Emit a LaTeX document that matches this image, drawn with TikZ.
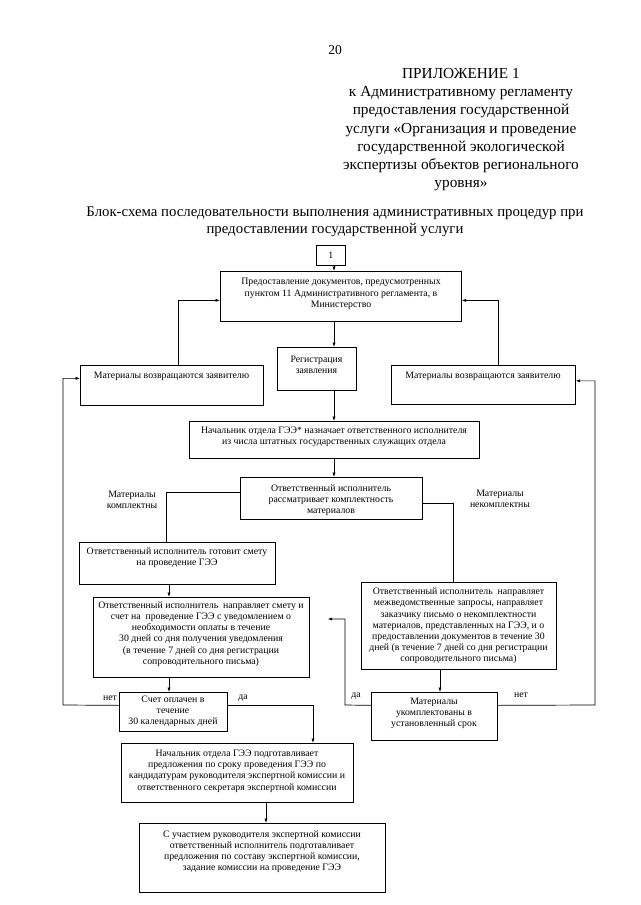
\documentclass[tikz,border=0pt]{standalone}
\usepackage{fontspec}
\setmainfont{Liberation Serif}
\usetikzlibrary{arrows.meta}
\begin{document}
\begin{tikzpicture}[x=1pt,y=-1pt,
  box/.style={draw=black,line width=0.7pt,inner sep=0pt,anchor=north west},
  txt/.style={align=center,inner sep=0pt,font={\fontsize{9.8}{11.2}\selectfont}},
  big/.style={align=center,inner sep=0pt,font={\fontsize{15.3}{18.1}\selectfont}},
  ln/.style={line width=0.7pt},
  arr/.style={line width=0.7pt,-{Latex[length=4.5pt,width=3.2pt]}}]
\useasboundingbox (0,0) rectangle (640,905);
\fill[white] (0,0) rectangle (640,905);
% header
\node[inner sep=0pt,font={\fontsize{13.5}{16}\selectfont}] (pg) at (335,50) {20};
\node[big] (hdr) at (461,129.6) {ПРИЛОЖЕНИЕ 1\\к Административному регламенту\\предоставления государственной\\услуги «Организация и проведение\\государственной экологической\\экспертизы объектов регионального\\уровня»};
\node[big,font={\fontsize{14.8}{17}\selectfont}] (ttl) at (335,221.5) {Блок-схема последовательности выполнения административных процедур при\\предоставлении государственной услуги};
% boxes
\node[box,minimum width=29,minimum height=20] (b1) at (316,245) {};
\node[txt] at (b1.center) {1};
\node[box,minimum width=241,minimum height=50] (A) at (220,271) {};
\node[txt] at (341,294) {Предоставление документов, предусмотренных\\пунктом 11 Административного регламента, в\\Министерство};
\node[box,minimum width=79,minimum height=43] (R) at (277,347) {};
\node[txt] at (316.5,364.5) {Регистрация\\заявления};
\node[box,minimum width=183,minimum height=40] (L) at (80,365) {};
\node[txt] at (171.5,376) {Материалы возвращаются заявителю};
\node[box,minimum width=184,minimum height=39] (Rt) at (391,365) {};
\node[txt] at (483,376) {Материалы возвращаются заявителю};
\node[box,minimum width=290,minimum height=37] (N) at (189,421) {};
\node[txt] at (334,436.5) {Начальник отдела ГЭЭ* назначает ответственного исполнителя\\из числа штатных государственных служащих отдела};
\node[box,minimum width=182,minimum height=42] (K) at (240,477) {};
\node[txt] at (331,500) {Ответственный исполнитель\\рассматривает комплектность\\материалов};
\node[box,minimum width=196,minimum height=42] (S) at (79,542) {};
\node[txt] at (177,557.5) {Ответственный исполнитель готовит смету\\на проведение ГЭЭ};
\node[box,minimum width=216,minimum height=80] (P) at (93,597) {};
\node[txt] at (201,634) {Ответственный исполнитель\ \ направляет смету и\\счет на\ \ проведение ГЭЭ с уведомлением о\\необходимости оплаты в течение\\30 дней со дня получения уведомления\\(в течение 7 дней со дня регистрации\\сопроводительного письма)};
\node[box,minimum width=195,minimum height=87] (I) at (361,582) {};
\node[txt] at (458.5,626) {Ответственный исполнитель\ \ направляет\\межведомственные запросы, направляет\\заказчику письмо о некомплектности\\материалов, представленных на ГЭЭ, и о\\предоставлении документов в течение 30\\дней (в течение 7 дней со дня регистрации\\сопроводительного письма)};
\node[box,minimum width=108,minimum height=39] (C) at (119,692) {};
\node[txt] at (173,711.5) {Счет оплачен в\\течение\\30 календарных дней};
\node[box,minimum width=126,minimum height=48] (M) at (371,692) {};
\node[txt] at (434,713.5) {Материалы\\укомплектованы в\\установленный срок};
\node[box,minimum width=232,minimum height=59] (G) at (121,743) {};
\node[txt] at (237,771) {Начальник отдела ГЭЭ подготавливает\\предложения по сроку проведения ГЭЭ по\\кандидатурам руководителя экспертной комиссии и\\ответственного секретаря экспертной комиссии};
\node[box,minimum width=246,minimum height=69] (F) at (139,823) {};
\node[txt] at (262,851.5) {С участием руководителя экспертной комиссии\\ответственный исполнитель подготавливает\\предложения по составу экспертной комиссии,\\задание комиссии на проведение ГЭЭ};
% labels
\node[txt] (lk) at (132,500) {Материалы\\комплектны};
\node[txt] (lnk) at (500,499) {Материалы\\некомплектны};
\node[txt] (net1) at (110,698) {нет};
\node[txt] (da1) at (243,698) {да};
\node[txt] (da2) at (356,696) {да};
\node[txt] (net2) at (521,695) {нет};
% connectors
\draw[arr] (b1.south -| 334,0) -- (A.north -| 334,0);
\draw[arr] (A.south -| 334,0) -- (R.north -| 334,0);
\draw[arr] (L.north -| 178,0) |- ([yshift=-4pt]A.west);
\draw[arr] (Rt.north -| 498,0) |- ([yshift=-4pt]A.east);
\draw[arr] (R.south -| 334,0) -- (N.north -| 334,0);
\draw[arr] (N.south -| 334,0) -- (K.north -| 334,0);
\draw[ln] ([yshift=6pt]K.west) -| (S.north -| 166,0);
\draw[ln] ([yshift=-5pt]K.east) -| (I.north -| 453,0);
\draw[arr] (S.south -| 169,0) -- (P.north -| 169,0);
\draw[arr] (P.south -| 169,0) -- (C.north -| 169,0);
\draw[arr] ([yshift=6.5pt]C.west) -- (63,705) |- ([yshift=7pt]L.west);
\draw[arr] ([yshift=6.5pt]C.east) -| (G.north -| 313,0);
\draw[arr,shorten >=18pt] ([yshift=11pt]M.west) -- (345,705) |- (P.east |- 0,619);
\draw[arr] ([yshift=11pt]M.east) -- (595,705) |- ([yshift=4pt]Rt.east);
\draw[arr] (I.south -| 440,0) -- (M.north -| 440,0);
\draw[arr] (G.south -| 266,0) -- (F.north -| 266,0);
\end{tikzpicture}
\end{document}
